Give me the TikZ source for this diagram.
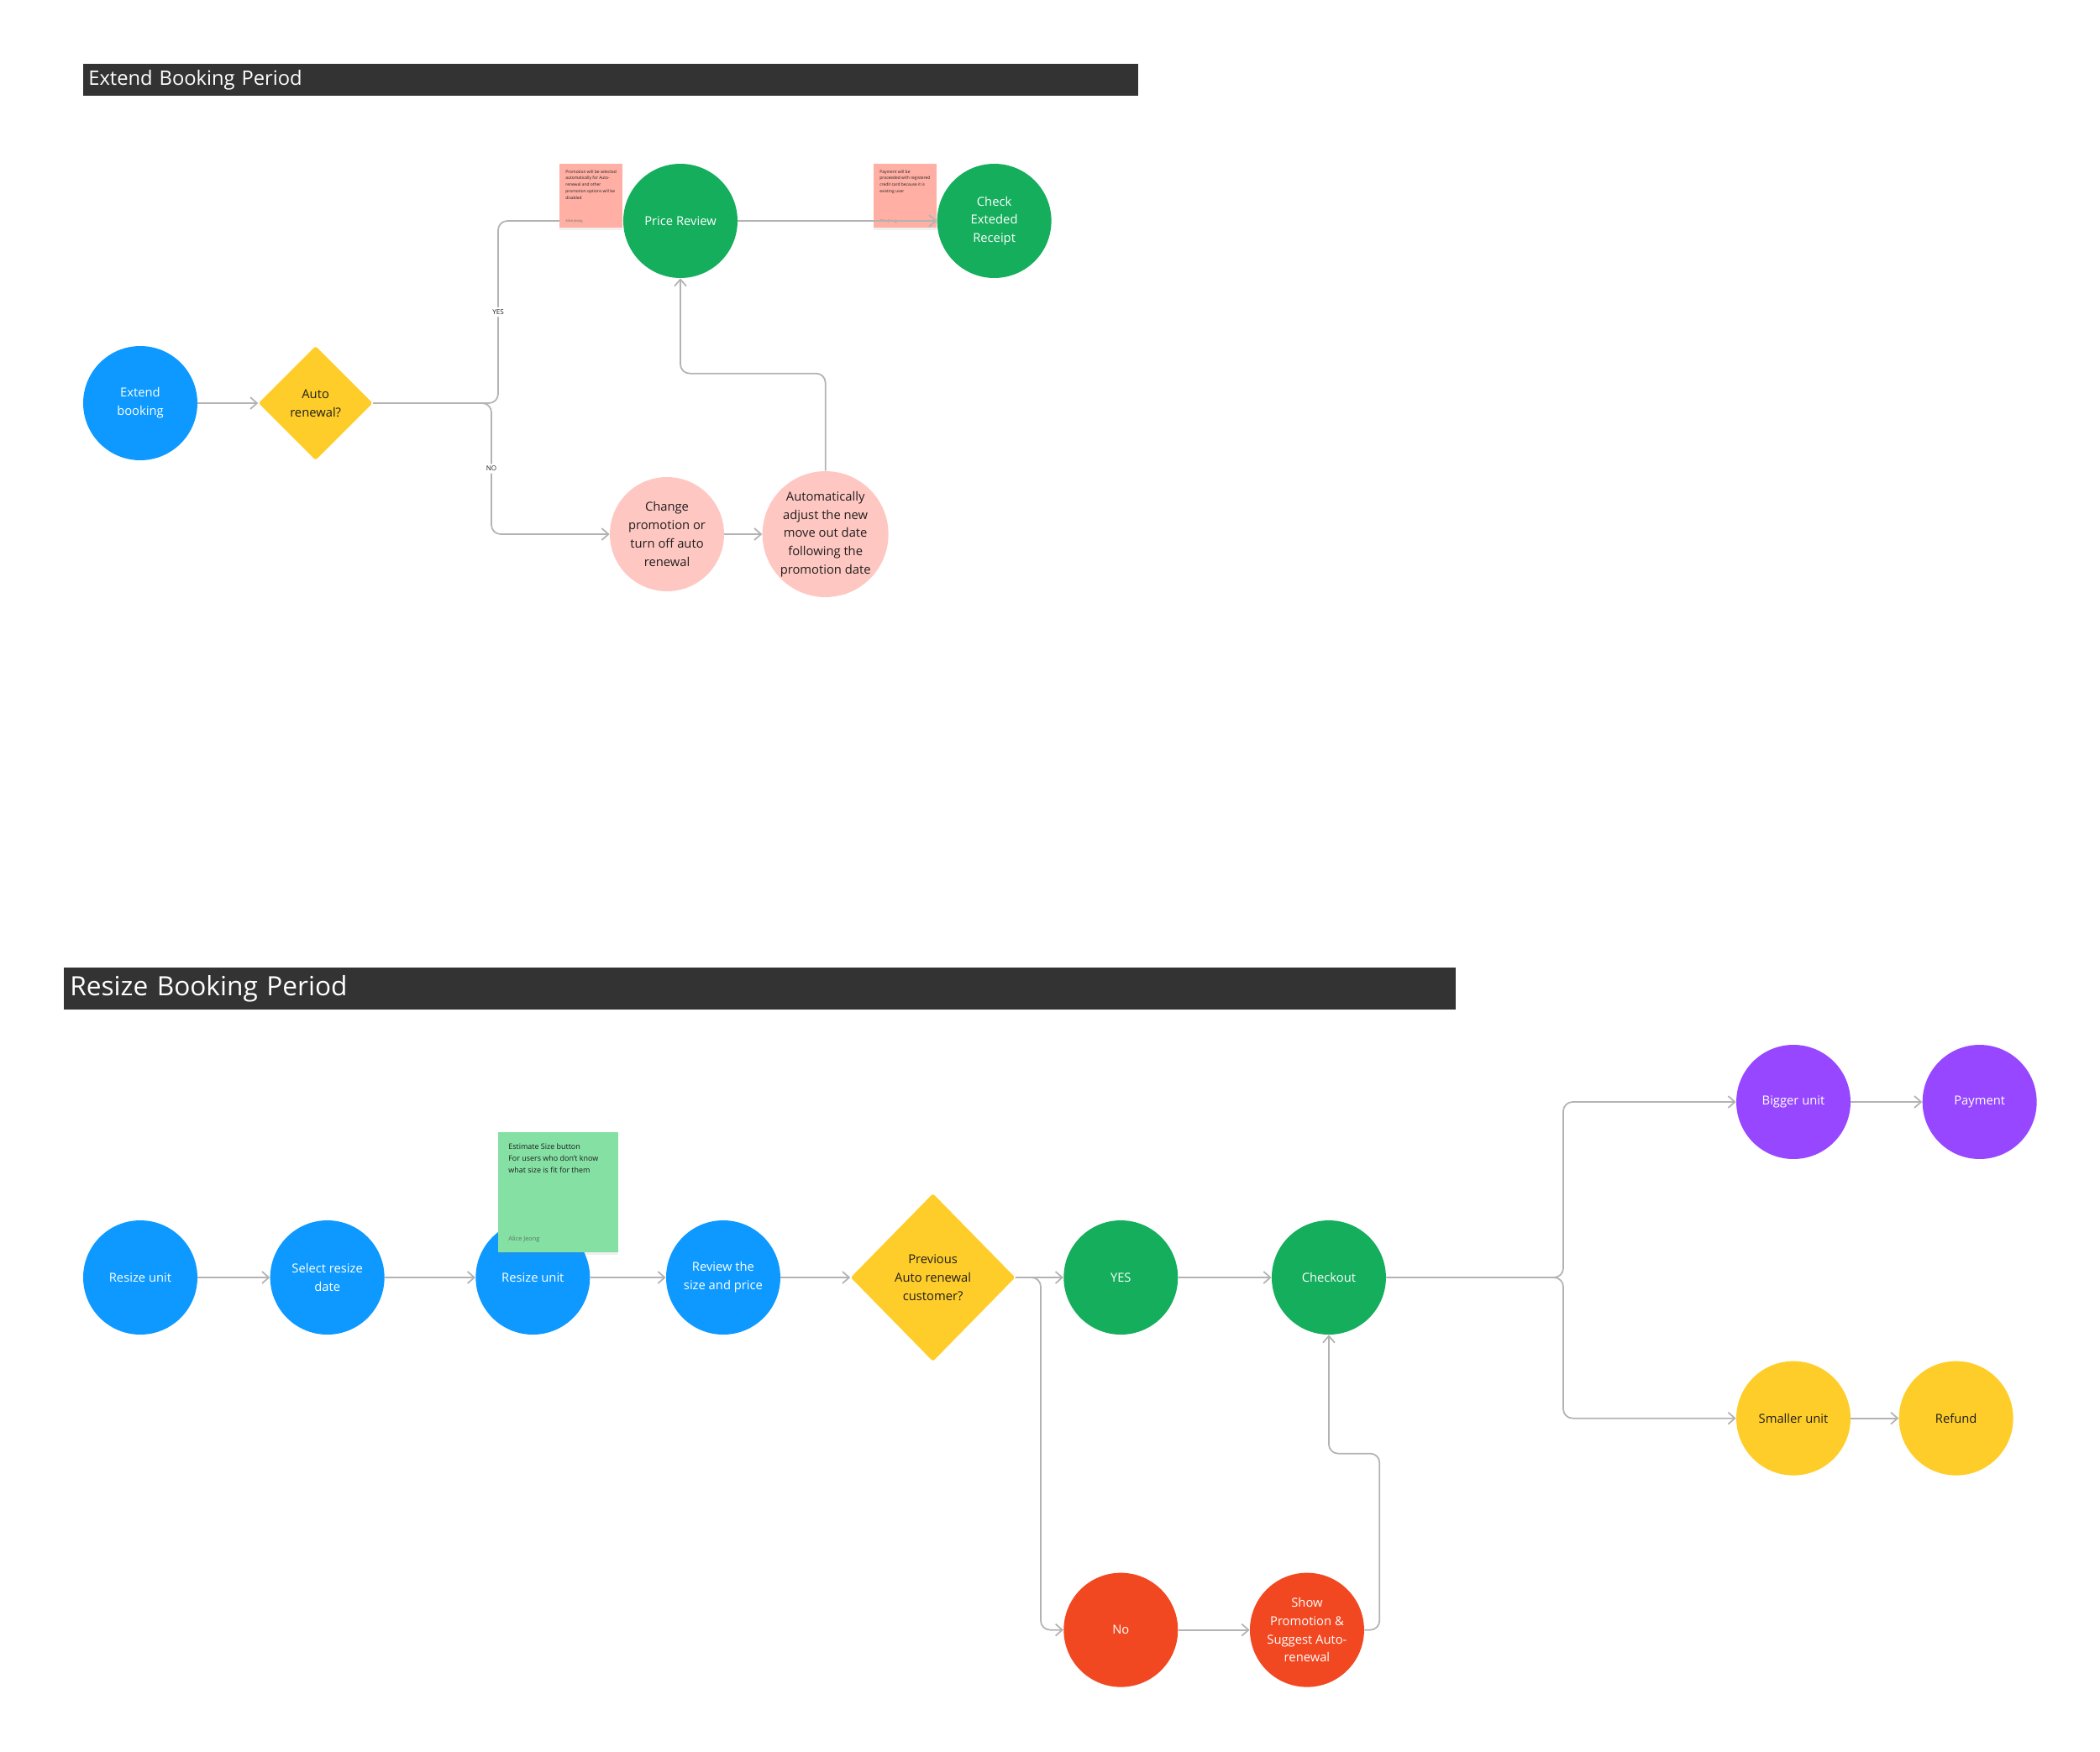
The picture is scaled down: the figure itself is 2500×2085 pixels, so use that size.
\documentclass[tikz,border=0pt]{standalone}
\usepackage{fontspec}
\setmainfont{Open Sans}
\usetikzlibrary{arrows.meta,positioning,shapes.geometric,shadows}
\definecolor{Ink}{HTML}{1E1E1E}
\definecolor{Bar}{HTML}{333333}
\definecolor{Wire}{HTML}{B3B3B3}
\definecolor{FigBlue}{HTML}{0D99FF}
\definecolor{FigGreen}{HTML}{14AE5C}
\definecolor{FigYellow}{HTML}{FFCD29}
\definecolor{FigPurple}{HTML}{9747FF}
\definecolor{FigRed}{HTML}{F24822}
\definecolor{FigPink}{HTML}{FFC7C2}
\definecolor{NotePink}{HTML}{FFAFA3}
\definecolor{NoteGreen}{HTML}{85E0A3}
\definecolor{SigGray}{HTML}{5F7566}
\newcommand{\bubblefont}{\fontsize{8.4}{12.4}\selectfont}
\newcommand{\branchfont}{\fontsize{4.6}{5.5}\selectfont}
\newcommand{\memofont}{\fontsize{2.8}{4.4}\selectfont}
\newcommand{\memosigfont}{\fontsize{2.3}{3}\selectfont}
\newcommand{\gmemofont}{\fontsize{5.1}{8}\selectfont}
\newcommand{\gmemosigfont}{\fontsize{4.2}{5}\selectfont}
\tikzset{
  bubble/.style={
    circle, minimum size=2.72cm, inner sep=0pt, align=center,
    font=\bubblefont, text=white
  },
  bluebubble/.style={bubble, fill=FigBlue},
  greenbubble/.style={bubble, fill=FigGreen},
  purplebubble/.style={bubble, fill=FigPurple},
  redbubble/.style={bubble, fill=FigRed},
  yellowbubble/.style={bubble, fill=FigYellow, text=Ink},
  pinkbubble/.style={bubble, fill=FigPink, text=Ink},
  decision/.style={
    diamond, fill=FigYellow, text=Ink, inner sep=0pt, align=center,
    font=\bubblefont, rounded corners=1.5pt
  },
  flow/.style={-{Straight Barb[length=1.6mm,width=2.8mm]}, line width=1pt, draw=Wire, rounded corners=0.22cm},
  branchlabel/.style={fill=white, font=\branchfont, text=Ink, inner sep=1.5pt},
  memo/.style={
    rectangle, anchor=north west, inner sep=0pt,
    drop shadow={opacity=0.12, shadow xshift=0pt, shadow yshift=-0.6mm}
  },
  memotext/.style={inner sep=0pt, align=left, text=Ink},
  titlebar/.style={fill=Bar, text=white, anchor=north west, align=left, inner ysep=0pt}
}

\begin{document}
\begin{tikzpicture}[x=0.02cm, y=-0.02cm]
    \useasboundingbox (0,0) rectangle (2500,2085);
    \node[titlebar, text width=24.88cm, inner xsep=0.12cm, minimum height=0.76cm, font=\fontsize{13.5}{15}\selectfont] (extendbar) at (99,76) {Extend Booking Period};
    \node[titlebar, text width=32.86cm, inner xsep=0.14cm, minimum height=1cm, font=\fontsize{18}{20}\selectfont] (resizebar) at (76,1152) {Resize Booking Period};

    \node[bluebubble] (extend) at (167,480) {Extend\\booking};
    \node[decision, minimum size=2.72cm, right=1.44cm of extend] (autorenew) {Auto\\renewal?};
    \node[greenbubble] (pricereview) at (810,263) {Price Review};
    \node[greenbubble, right=4.74cm of pricereview] (receipt) {Check\\Exteded\\Receipt};
    \node[pinkbubble] (changepromo) at (794,636) {Change\\promotion or\\turn off auto\\renewal};
    \node[pinkbubble, minimum size=3cm, right=0.9cm of changepromo] (autoadjust) {Automatically\\adjust the new\\move out date\\following the\\promotion date};

    \node[bluebubble] (resize) at (167,1521) {Resize unit};
    \node[bluebubble, right=1.72cm of resize] (resizedate) {Select resize\\date};
    \node[bluebubble, right=2.16cm of resizedate] (resizeunit) {Resize unit};
    \node[bluebubble, right=1.8cm of resizeunit] (review) {Review the\\size and price};
    \node[decision, minimum width=3.92cm, minimum height=4cm, right=1.66cm of review] (prevcustomer) {Previous\\Auto renewal\\customer?};
    \node[greenbubble, right=1.14cm of prevcustomer] (yes) {YES};
    \node[greenbubble, right=2.22cm of yes] (checkout) {Checkout};
    \node[redbubble, below=5.66cm of yes] (no) {No};
    \node[redbubble, right=1.7cm of no] (suggest) {Show\\Promotion \&\\Suggest Auto-\\renewal};
    \node[purplebubble] (bigger) at (2135,1312) {Bigger unit};
    \node[purplebubble, right=1.7cm of bigger] (payment) {Payment};
    \node[yellowbubble, below=4.8cm of bigger] (smaller) {Smaller unit};
    \node[yellowbubble, right=1.14cm of smaller] (refund) {Refund};

    \node[memo, fill=NotePink, minimum width=1.5cm, minimum height=1.52cm] (paynote) at (1040,195) {};
    \node[memotext, font=\memofont, below right=0.14cm and 0.14cm of paynote.north west] (paynotetext) {Payment will be\\proceeded with registered\\credit card because it is\\existing user};
    \node[memotext, font=\memosigfont, text=SigGray, above right=0.12cm and 0.14cm of paynote.south west] (paynotesig) {Alice Jeong};

    \coordinate (yesturn) at (593,480);
    \coordinate (noturn) at (585,480);
    \coordinate (declineturn) at (1239,1521);
    \coordinate (sizeturn) at (1861,1521);
    \draw[flow] (extend) -- (autorenew);
    \draw[flow] (autorenew.east) -- (yesturn) |- node[branchlabel, pos=0.25] (yeslabel) {YES} (pricereview.west);
    \draw[flow] (autorenew.east) -- (noturn) |- node[branchlabel, pos=0.25] (nolabel) {NO} (changepromo.west);
    \draw[flow] (changepromo) -- (autoadjust);
    \draw[flow] (autoadjust.north) -- ++(0,-116) -| (pricereview.south);
    \draw[flow] (pricereview) -- (receipt);

    \draw[flow] (resize) -- (resizedate);
    \draw[flow] (resizedate) -- (resizeunit);
    \draw[flow] (resizeunit) -- (review);
    \draw[flow] (review) -- (prevcustomer);
    \draw[flow] (prevcustomer) -- (yes);
    \draw[flow] (prevcustomer.east) -- (declineturn) |- (no.west);
    \draw[flow] (yes) -- (checkout);
    \draw[flow] (no) -- (suggest);
    \draw[flow] (suggest.east) -- ++(18,0) -- ++(0,-210) -| (checkout.south);
    \draw[flow] (checkout.east) -- (sizeturn) |- (bigger.west);
    \draw[flow] (checkout.east) -- (sizeturn) |- (smaller.west);
    \draw[flow] (bigger) -- (payment);
    \draw[flow] (smaller) -- (refund);

    \node[memo, fill=NotePink, minimum width=1.5cm, minimum height=1.52cm] (promonote) at (666,195) {};
    \node[memotext, font=\memofont, below right=0.14cm and 0.14cm of promonote.north west] (promonotetext) {Promotion will be selected\\automatically for Auto-\\renewal and other\\promotion options will be\\disabled};
    \node[memotext, font=\memosigfont, text=SigGray, above right=0.12cm and 0.14cm of promonote.south west] (promonotesig) {Alice Jeong};

    \node[memo, fill=NoteGreen, minimum width=2.86cm, minimum height=2.86cm] (sizenote) at (593,1348) {};
    \node[memotext, font=\gmemofont, below right=0.26cm and 0.24cm of sizenote.north west] (sizenotetext) {Estimate Size button\\For users who don’t know\\what size is fit for them};
    \node[memotext, font=\gmemosigfont, text=SigGray, above right=0.24cm and 0.24cm of sizenote.south west] (sizenotesig) {Alice Jeong};
  \end{tikzpicture}
\end{document}
